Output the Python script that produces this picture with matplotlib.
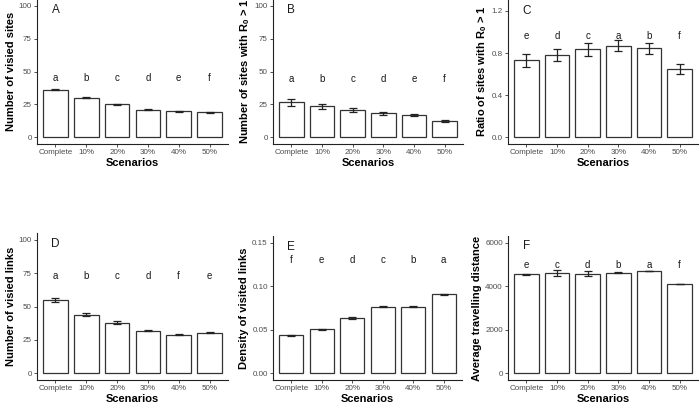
import numpy as np
import matplotlib
matplotlib.use("Agg")
import matplotlib.pyplot as plt

plt.rcParams['font.family'] = ['Liberation Sans', 'DejaVu Sans']
plt.rcParams['mathtext.default'] = 'regular'

scenarios = ['Complete', '10%', '20%', '30%', '40%', '50%']

# A: number of visited sites
sites_mean = [36, 30, 25, 21, 20, 19]
sites_err = [0.4, 0.4, 0.3, 0.2, 0.4, 0.3]
sites_letters = ['a', 'b', 'c', 'd', 'e', 'f']

# B: number of sites with R0 > 1
r0_mean = [26.5, 23.5, 21, 18.3, 17, 12.3]
r0_err = [2.3, 2.0, 1.5, 1.2, 1.0, 0.8]
r0_letters = ['a', 'b', 'c', 'd', 'e', 'f']

# C: ratio of sites with R0 > 1
ratio_mean = [0.73, 0.78, 0.835, 0.87, 0.845, 0.65]
ratio_err = [0.065, 0.06, 0.06, 0.05, 0.05, 0.05]
ratio_letters = ['e', 'd', 'c', 'a', 'b', 'f']

# D: number of visited links
links_mean = [54.5, 44, 38, 32, 29, 30.5]
links_err = [1.5, 1.0, 1.0, 0.3, 0.3, 0.5]
links_letters = ['a', 'b', 'c', 'd', 'f', 'e']

# E: density of visited links
dens_mean = [0.0435, 0.0505, 0.0635, 0.0765, 0.0765, 0.0905]
dens_err = [0.001, 0.0008, 0.001, 0.0003, 0.0005, 0.001]
dens_letters = ['f', 'e', 'd', 'c', 'b', 'a']

# F: average travelling distance
dist_mean = [4540, 4600, 4580, 4620, 4700, 4100]
dist_err = [10, 150, 100, 10, 10, 10]
dist_letters = ['e', 'c', 'd', 'b', 'a', 'f']

panels = [
    # tag, mean, err, letters, ylabel, ymax, ticks, letter_y, tag_y, ticklabels, box(px)
    ('A', sites_mean, sites_err, sites_letters, 'Number of visied sites',
     100, [0, 25, 50, 75, 100], 45, 97, None, (37, 228, -1, 144)),
    ('B', r0_mean, r0_err, r0_letters, r'Number of sites with R$_{0}$ > 1',
     100, [0, 25, 50, 75, 100], 44, 97, None, (273, 463, -1, 144)),
    ('C', ratio_mean, ratio_err, ratio_letters, r'Ratio of sites with R$_{0}$ > 1',
     1.25, [0.0, 0.4, 0.8, 1.2], 0.965, 1.2, ['0.0', '0.4', '0.8', '1.2'], (508, 698, -1, 144)),
    ('D', links_mean, links_err, links_letters, 'Number of visied links',
     100, [0, 25, 50, 75, 100], 73, 97, None, (37, 228, 233, 380)),
    ('E', dens_mean, dens_err, dens_letters, 'Density of visited links',
     0.15, [0.0, 0.05, 0.10, 0.15], 0.130, 0.145, ['0.00', '0.05', '0.10', '0.15'], (273, 462, 236, 380)),
    ('F', dist_mean, dist_err, dist_letters, 'Average travelling distance',
     6000, [0, 2000, 4000, 6000], 4970, 5850, None, (508, 698, 236, 380)),
]

W, H = 700, 403
fig = plt.figure(figsize=(W / 100, H / 100), dpi=100)
x = np.arange(1, len(scenarios) + 1)

for tag, mean, err, letters, ylab, ymax, ticks, ly, ty, tlabels, box in panels:
    x0, x1, y0, y1 = box
    ax = fig.add_axes([x0 / W, 1 - y1 / H, (x1 - x0) / W, (y1 - y0) / H])
    ax.bar(x, mean, width=0.8, color='white', edgecolor='#333333', linewidth=0.9)
    ax.errorbar(x, mean, yerr=err, fmt='none', ecolor='#222222',
                elinewidth=0.9, capsize=2.6, capthick=0.9)
    for xi, let in zip(x, letters):
        ax.text(xi, ly, let, ha='center', va='center', fontsize=7, color='#1a1a1a')
    ax.text(1, ty, tag, ha='center', va='center', fontsize=8.5, color='#1a1a1a')
    ax.set_xlim(0.4, 6.6)
    ax.set_ylim(-0.05 * ymax, 1.05 * ymax)
    ax.set_xticks(x)
    ax.set_xticklabels(scenarios)
    ax.set_yticks(ticks)
    if tlabels is not None:
        ax.set_yticklabels(tlabels)
    for s in ['top', 'right']:
        ax.spines[s].set_visible(False)
    for s in ['left', 'bottom']:
        ax.spines[s].set_color('#222222')
        ax.spines[s].set_linewidth(0.8)
    ax.tick_params(axis='both', labelsize=5.8, labelcolor='#4d4d4d', color='#333333',
                   length=2.2, width=0.6, pad=1.5)
    ax.set_xlabel('Scenarios', fontsize=8, fontweight='bold', labelpad=1)
    ax.set_ylabel(ylab, fontsize=8, fontweight='bold', labelpad=2)

fig.savefig('out.png', dpi=100)
